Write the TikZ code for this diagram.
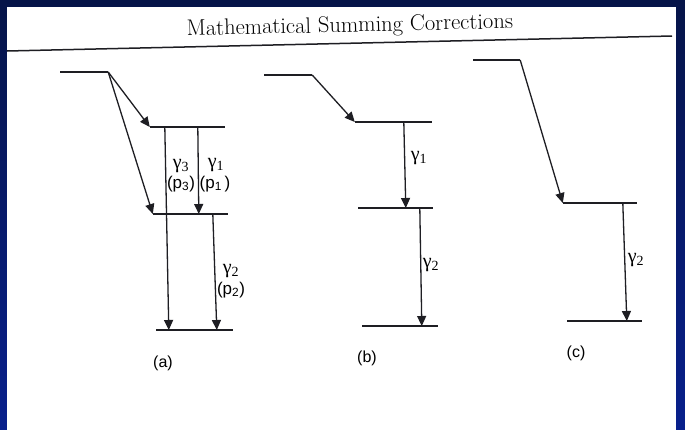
\documentclass[tikz,border=0pt]{standalone}
\usepackage{fontspec}
\usetikzlibrary{arrows.meta}
\newfontfamily\gfont{Liberation Serif}
\newfontfamily\lfont{Liberation Sans}
\definecolor{ink}{RGB}{30,30,35}
\definecolor{navytop}{RGB}{6,20,72}
\definecolor{navybot}{RGB}{8,32,140}
\newcommand\gam[1]{γ\textsubscript{#1}}
\newcommand\prob[1]{(p\textsubscript{#1})}
\tikzset{
  level/.style ={rectangle, fill=ink, inner sep=0pt, minimum height=2.8pt},
  flow/.style  ={-{Triangle[length=10pt,width=9pt]}, draw=ink, line width=1.3pt},
  glbl/.style  ={font=\gfont\fontsize{20}{20}\selectfont, inner sep=0pt},
  plbl/.style  ={font=\lfont\fontsize{17}{17}\selectfont, inner sep=0pt},
  tag/.style   ={font=\lfont\fontsize{16}{16}\selectfont, inner sep=0pt}
}

\begin{document}
\begin{tikzpicture}[x=1pt,y=-1pt]
\useasboundingbox (0,0) rectangle (685,429);
%% slide frame and the scanned page
\fill[top color=navytop, bottom color=navybot] (0,0) rectangle (685,429);
\fill[white] (7,7) rectangle (676,431);

\node[font=\fontsize{22.5}{22.5}\selectfont, anchor=base, rotate=1.3, inner sep=0pt]
      (title) at (350,32) {Mathematical Summing Corrections};
\coordinate (ruleL) at (7,51);
\coordinate (ruleR) at (672,36);
\draw[ink, line width=1.5pt] (ruleL) -- (ruleR);

%% (a): three-level cascade with crossover
\node[level, minimum width=48pt] (a0) at (84,72)     {};
\node[level, minimum width=75pt] (a1) at (187.5,127) {};
\node[level, minimum width=75pt] (a2) at (190.5,214) {};
\node[level, minimum width=77pt] (a3) at (194.5,330) {};

\draw[flow] (a0.east) -- (a1.west);
\draw[flow] (a0.east) -- (a2.west);
\draw[flow] ([xshift=15pt]a1.west) -- ([xshift=13pt]a3.west);
\draw[flow] ([xshift=48pt]a1.west) -- ([xshift=46pt]a2.west);
\draw[flow] ([xshift=60pt]a2.west) -- ([xshift=61pt]a3.west);

\node[glbl] (g3a) at (181,166) {\gam{3}};
\node[plbl] (p3a) at (181,184) {\prob{3}};
\node[glbl] (g1a) at (216,165) {\gam{1}};
\node[plbl] (p1a) at (215,184) {(p\textsubscript{1}\,)};
\node[glbl] (g2a) at (231,271) {\gam{2}};
\node[plbl] (p2a) at (231,290) {\prob{2}};
\node[tag]  (ta)  at (163,363) {(a)};

%% (b): plain cascade
\node[level, minimum width=48pt] (b0) at (288,75)    {};
\node[level, minimum width=77pt] (b1) at (393.5,122) {};
\node[level, minimum width=75pt] (b2) at (395.5,208) {};
\node[level, minimum width=76pt] (b3) at (400,326)   {};

\draw[flow] (b0.east) -- (b1.west);
\draw[flow] ([xshift=49pt]b1.west) -- ([xshift=48pt]b2.west);
\draw[flow] ([xshift=62pt]b2.west) -- ([xshift=60pt]b3.west);

\node[glbl] (g1b) at (419,158) {\gam{1}};
\node[glbl] (g2b) at (431,265) {\gam{2}};
\node[tag]  (tb)  at (367,358) {(b)};

%% (c): direct feed of the middle level
\node[level, minimum width=47pt] (c0) at (496.5,60)  {};
\node[level, minimum width=74pt] (c1) at (600,203)   {};
\node[level, minimum width=75pt] (c2) at (604.5,321) {};

\draw[flow] (c0.east) -- (c1.west);
\draw[flow] ([xshift=60pt]c1.west) -- ([xshift=60pt]c2.west);

\node[glbl] (g2c) at (636,260) {\gam{2}};
\node[tag]  (tc)  at (576,353) {(c)};
\end{tikzpicture}
\end{document}
